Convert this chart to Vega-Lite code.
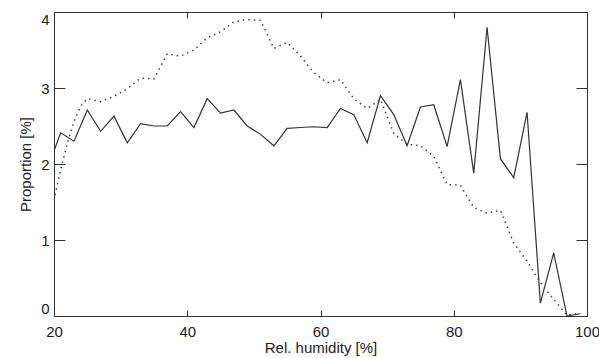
{
  "$schema": "https://vega.github.io/schema/vega-lite/v6.json",
  "width": 533,
  "height": 304,
  "autosize": {"type": "none"},
  "padding": {"left": 54, "top": 12, "right": 12, "bottom": 42},
  "background": "white",
  "config": {
    "view": {"stroke": "#333", "strokeWidth": 1},
    "axis": {
      "labelFont": "Liberation Sans",
      "titleFont": "Liberation Sans",
      "labelFontSize": 15,
      "titleFontSize": 15,
      "titleFontWeight": "normal",
      "labelColor": "#222",
      "titleColor": "#222",
      "domain": false,
      "ticks": false,
      "grid": true,
      "gridColor": "#333",
      "gridWidth": 1,
      "gridOpacity": 1,
      "labelOverlap": false
    }
  },
  "datasets": {
    "solid": [
      {"rh": 20, "v": 2.17}, {"rh": 21, "v": 2.41}, {"rh": 23, "v": 2.30}, {"rh": 25, "v": 2.71},
      {"rh": 27, "v": 2.43}, {"rh": 29, "v": 2.63}, {"rh": 31, "v": 2.28}, {"rh": 33, "v": 2.53},
      {"rh": 35, "v": 2.50}, {"rh": 37, "v": 2.50}, {"rh": 39, "v": 2.69}, {"rh": 41, "v": 2.48},
      {"rh": 43, "v": 2.86}, {"rh": 45, "v": 2.67}, {"rh": 47, "v": 2.71}, {"rh": 49, "v": 2.50},
      {"rh": 51, "v": 2.39}, {"rh": 53, "v": 2.24}, {"rh": 55, "v": 2.47}, {"rh": 57, "v": 2.48},
      {"rh": 59, "v": 2.49}, {"rh": 61, "v": 2.48}, {"rh": 63, "v": 2.73}, {"rh": 65, "v": 2.65},
      {"rh": 67, "v": 2.28}, {"rh": 69, "v": 2.90}, {"rh": 71, "v": 2.65}, {"rh": 73, "v": 2.24},
      {"rh": 75, "v": 2.75}, {"rh": 77, "v": 2.78}, {"rh": 79, "v": 2.23}, {"rh": 81, "v": 3.11},
      {"rh": 83, "v": 1.88}, {"rh": 85, "v": 3.80}, {"rh": 87, "v": 2.07}, {"rh": 89, "v": 1.82},
      {"rh": 91, "v": 2.68}, {"rh": 93, "v": 0.17}, {"rh": 95, "v": 0.83}, {"rh": 97, "v": 0.0},
      {"rh": 99, "v": 0.03}
    ],
    "dotted": [
      {"rh": 20, "v": 1.52}, {"rh": 21, "v": 1.93}, {"rh": 22, "v": 2.27}, {"rh": 23, "v": 2.56},
      {"rh": 24, "v": 2.76}, {"rh": 25, "v": 2.86}, {"rh": 27, "v": 2.82}, {"rh": 29, "v": 2.89},
      {"rh": 31, "v": 2.99}, {"rh": 33, "v": 3.13}, {"rh": 35, "v": 3.12}, {"rh": 37, "v": 3.45},
      {"rh": 39, "v": 3.42}, {"rh": 41, "v": 3.50}, {"rh": 43, "v": 3.66}, {"rh": 45, "v": 3.74},
      {"rh": 47, "v": 3.87}, {"rh": 49, "v": 3.90}, {"rh": 51, "v": 3.89}, {"rh": 53, "v": 3.52},
      {"rh": 55, "v": 3.60}, {"rh": 57, "v": 3.42}, {"rh": 59, "v": 3.20}, {"rh": 61, "v": 3.07},
      {"rh": 63, "v": 3.11}, {"rh": 65, "v": 2.86}, {"rh": 67, "v": 2.73}, {"rh": 69, "v": 2.85},
      {"rh": 71, "v": 2.40}, {"rh": 73, "v": 2.26}, {"rh": 75, "v": 2.24}, {"rh": 77, "v": 2.10},
      {"rh": 79, "v": 1.73}, {"rh": 81, "v": 1.72}, {"rh": 83, "v": 1.43}, {"rh": 85, "v": 1.35},
      {"rh": 87, "v": 1.39}, {"rh": 89, "v": 0.96}, {"rh": 91, "v": 0.72}, {"rh": 93, "v": 0.44},
      {"rh": 95, "v": 0.22}, {"rh": 97, "v": 0.01}, {"rh": 99, "v": 0.04}
    ]
  },
  "layer": [
    {
      "data": {"name": "solid"},
      "mark": {"type": "line", "stroke": "#333", "strokeWidth": 1.2, "clip": true},
      "encoding": {
        "x": {
          "field": "rh", "type": "quantitative",
          "scale": {"domain": [20, 100], "nice": false, "zero": false},
          "axis": {"orient": "bottom", "title": "Rel. humidity [%]",
                   "values": [20, 40, 60, 80, 100], "format": "d",
                   "gridDash": [6, 292, 6, 1000],
                   "labelPadding": 8, "labelFlush": false, "titlePadding": 1}
        },
        "y": {
          "field": "v", "type": "quantitative",
          "scale": {"domain": [0, 4], "nice": false},
          "axis": {"orient": "left", "title": "Proportion [%]",
                   "values": [0, 1, 2, 3, 4], "format": "d",
                   "gridDash": [11, 511, 11, 1000],
                   "labelPadding": 5, "labelFlush": true, "titlePadding": 7}
        }
      }
    },
    {
      "data": {"name": "dotted"},
      "mark": {"type": "line", "stroke": "#444", "strokeWidth": 1.5, "strokeDash": [1.5, 4], "clip": true},
      "encoding": {
        "x": {
          "field": "rh", "type": "quantitative",
          "axis": {"orient": "bottom", "title": null, "labels": false,
                   "values": [25, 30, 35, 45, 50, 55, 65, 70, 75, 85, 90, 95],
                   "gridDash": [3, 298, 3, 1000]}
        },
        "y": {
          "field": "v", "type": "quantitative",
          "axis": {"orient": "left", "title": null, "labels": false,
                   "values": [0.1, 0.2, 0.3, 0.4, 0.5, 0.6, 0.7, 0.8, 0.9, 1.1, 1.2, 1.3, 1.4, 1.5, 1.6, 1.7, 1.8, 1.9, 2.1, 2.2, 2.3, 2.4, 2.5, 2.6, 2.7, 2.8, 2.9, 3.1, 3.2, 3.3, 3.4, 3.5, 3.6, 3.7, 3.8, 3.9],
                   "gridDash": [5, 523, 5, 1000]}
        }
      }
    }
  ],
  "resolve": {"axis": {"x": "independent", "y": "independent"}}
}
